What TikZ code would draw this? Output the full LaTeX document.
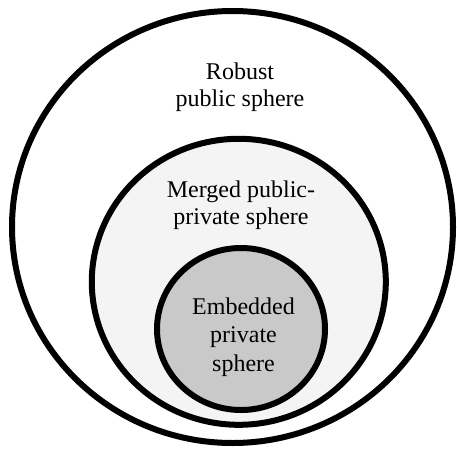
\documentclass[tikz,border=0pt]{standalone}
\usepackage{fontspec}
\setmainfont{Liberation Serif}
\usetikzlibrary{shapes.geometric}
\definecolor{midfill}{HTML}{F4F4F4}
\definecolor{innerfill}{HTML}{C9C9C9}
\begin{document}
\begin{tikzpicture}[x=1pt,y=-1pt,
  ring/.style={ellipse, draw=black, line width=6pt, inner sep=0pt, outer sep=0pt},
  lbl/.style={align=center, inner sep=0pt, anchor=north, font=\fontsize{24}{27.5}\selectfont}]
\useasboundingbox (0,0) rectangle (457,450);
\fill[white] (0,0) rectangle (457,450);
\node[ring, fill=white, minimum width=441pt, minimum height=432pt] (outer) at (232.5,227) {};
\node[ring, fill=midfill, minimum width=294pt, minimum height=286pt] (middle) at (238.8,281.8) {};
\node[ring, fill=innerfill, minimum width=168pt, minimum height=162pt] (inner) at (241,329) {};
\node[lbl] (robust) at (240,62.6) {Robust\\public sphere};
\node[lbl] (merged) at (241,180.6) {Merged public-\\private sphere};
\node[lbl, font=\fontsize{24}{28.5}\selectfont] (embedded) at (243.5,297.6) {Embedded\\private\\sphere};
\end{tikzpicture}
\end{document}
